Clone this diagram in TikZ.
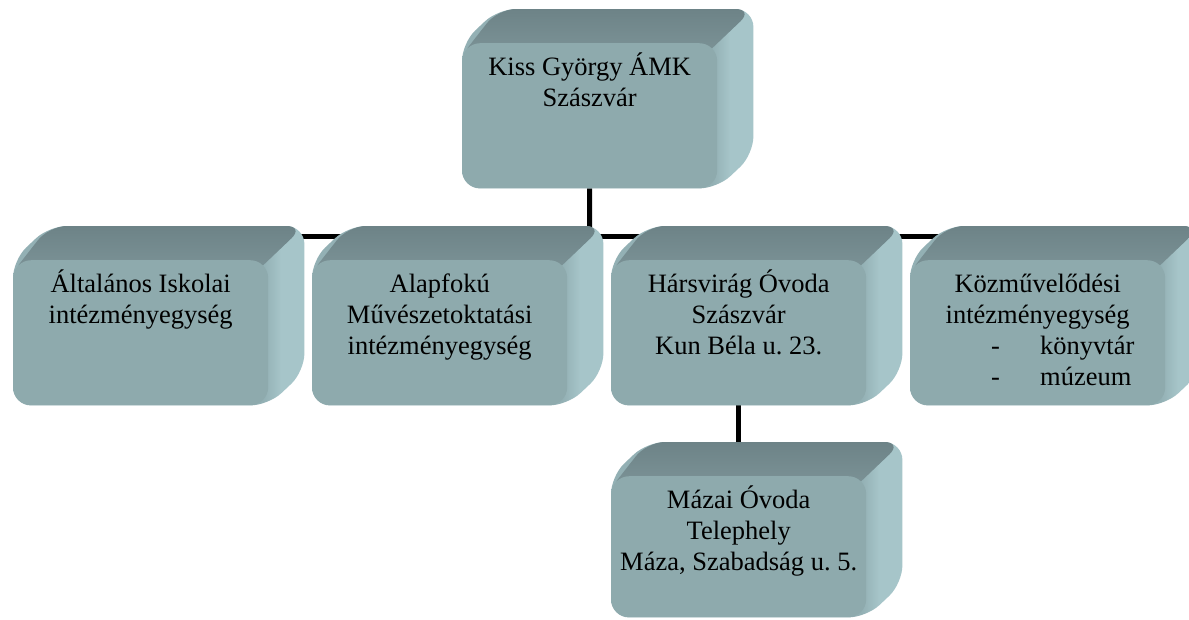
\documentclass[tikz,border=0pt]{standalone}
\usepackage{fontspec}
\setmainfont{Liberation Serif}
\usetikzlibrary{calc}
\pgfdeclarelayer{bg}
\pgfdeclarelayer{conn}
\pgfdeclarelayer{sides}
\pgfsetlayers{bg,conn,sides,main}
\definecolor{frontc}{HTML}{8EAAAD}
\definecolor{topc}{HTML}{6D8387}
\definecolor{topc2}{HTML}{7A9195}
\definecolor{sidec}{HTML}{93B0B4}
\definecolor{sidec2}{HTML}{A6C5C9}
\pgfdeclarehorizontalshading{sideshade}{100bp}{color(0bp)=(sidec); color(68bp)=(sidec); color(71bp)=(sidec2); color(100bp)=(sidec2)}
\frenchspacing
\tikzset{
  frontbox/.style={fill=frontc, draw=none, rounded corners=18pt, minimum width=255pt,
    minimum height=145pt, inner sep=8pt, anchor=north west,
    font=\fontsize{26.5}{31}\selectfont},
  connline/.style={line width=5pt, black}
}
\newcommand\boxtext[1]{\parbox[c][129pt][t]{239pt}{\centering\rule{0pt}{24pt}#1}}
\newcommand\extrude[1]{%
  \begin{pgfonlayer}{sides}
    \shade[shading=sideshade, rounded corners=18pt]
      (#1.north west) -- ($(#1.north west)+(36,-34)$) -- ($(#1.north east)+(36,-34)$)
      -- ($(#1.south east)+(36,-34)$) -- (#1.south east) -- (#1.south west) -- cycle;
    \shade[top color=topc, bottom color=topc2]
      ($(#1.north west)+(5.3,5.3)$) [rounded corners=18pt] -- ($(#1.north west)+(36,-34)$)
      -- ($(#1.north east)+(36,-34)$) [sharp corners] -- ($(#1.north east)+(-5.3,5.3)$) -- cycle;
  \end{pgfonlayer}}
\begin{document}
\begin{tikzpicture}[x=1pt,y=-1pt]
\begin{pgfonlayer}{bg}
\fill[white] (0,0) rectangle (1189,619);
\end{pgfonlayer}
\useasboundingbox (0,0) rectangle (1189,619);
\node[frontbox] (top) at (462,43) {\boxtext{Kiss György ÁMK\\Szászvár}};
\node[frontbox] (b1) at (13,260) {\boxtext{Általános Iskolai\\intézményegység}};
\node[frontbox] (b2) at (312,260) {\boxtext{Alapfokú\\Művészetoktatási\\intézményegység}};
\node[frontbox] (b3) at (611,260) {\boxtext{Hársvirág Óvoda\\Szászvár\\Kun Béla u. 23.}};
\node[frontbox] (b4) at (910,260) {\boxtext{Közművelődési\\intézményegység\\
  \makebox[239pt][l]{\hspace*{73pt}\makebox[49pt][l]{-}könyvtár}\\
  \makebox[239pt][l]{\hspace*{73pt}\makebox[49pt][l]{-}múzeum}}};
\node[frontbox, minimum height=141pt] (b5) at (611,476) {\parbox[c][125pt][t]{239pt}{\centering\rule{0pt}{24pt}Mázai Óvoda\\Telephely\\Máza, Szabadság u. 5.}};
\extrude{top}\extrude{b1}\extrude{b2}\extrude{b3}\extrude{b4}\extrude{b5}
\coordinate (hub) at (589.5,236);
\begin{pgfonlayer}{conn}
  \draw[connline] (top) -- (hub);
  \draw[connline] (b1) |- (hub);
  \draw[connline] (b2) |- (hub);
  \draw[connline] (b3) |- (hub);
  \draw[connline] (b4) |- (hub);
  \draw[connline] (b3) -- (b3 |- b5);
\end{pgfonlayer}
\end{tikzpicture}
\end{document}
